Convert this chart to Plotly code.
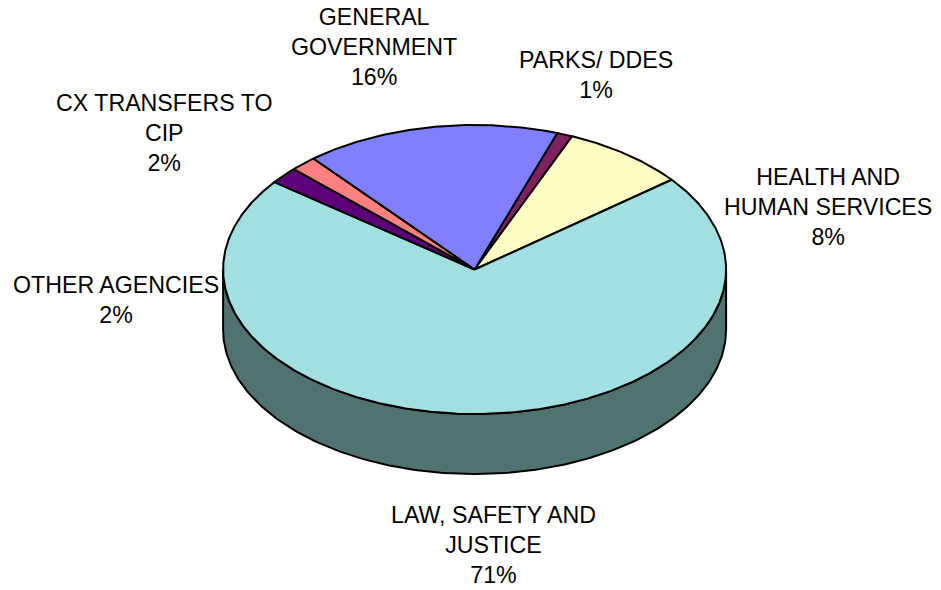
import numpy as np
import plotly.graph_objects as go

# ---- data (clockwise order, starting at the Parks slice) ----
categories = ["PARKS/ DDES", "HEALTH AND<br>HUMAN SERVICES", "LAW, SAFETY AND<br>JUSTICE",
              "OTHER AGENCIES", "CX TRANSFERS TO<br>CIP", "GENERAL<br>GOVERNMENT"]
values = [1.0, 8.0, 71.0, 1.9, 1.7, 16.4]

# ---- styles / layout ----
top_colors = ["#80205F", "#FFFFC4", "#A2DFE0", "#5E0078", "#FF8080", "#8080FF"]
side_colors = ["#501040", "#9F9F7A", "#517370", "#3A004A", "#9F5050", "#50509F"]
label_pos = [(595.5, 75), (828, 207), (493.5, 545), (116, 300), (163.5, 132.5), (374, 47)]

W, H = 941, 590
cx, cy = 474.6, 269.5
rx, ry = 251.5, 144.5
depth = 60
start_angle = 70.8  # degrees, math convention; slices go clockwise

total = sum(values)
fig = go.Figure()

def ell(a_deg, dy=0.0):
    a = np.radians(a_deg)
    return cx + rx * np.cos(a), cy - ry * np.sin(a) + dy

# slice angle intervals
slices = []
a = start_angle
for v in values:
    span = 360.0 * v / total
    slices.append((a - span, a))
    a -= span

# side walls (front half: math angles in [-180, 0])
for (lo, hi), col in zip(slices, side_colors):
    for shift in (-360, 0, 360):
        l = max(lo + shift, -180.0)
        h = min(hi + shift, 0.0)
        if h > l:
            ang = np.linspace(l, h, 200)
            xt, yt = ell(ang)
            xb, yb = ell(ang[::-1], depth)
            xs = np.concatenate([xt, xb, xt[:1]])
            ys = np.concatenate([yt, yb, yt[:1]])
            fig.add_trace(go.Scatter(x=xs, y=ys, mode="lines", fill="toself",
                                     fillcolor=col, line=dict(color="black", width=2),
                                     hoverinfo="skip", showlegend=False))

# top faces
for (lo, hi), col in zip(slices, top_colors):
    n = max(int((hi - lo) * 2), 10)
    ang = np.linspace(hi, lo, n)
    xa, ya = ell(ang)
    xs = np.concatenate([[cx], xa, [cx]])
    ys = np.concatenate([[cy], ya, [cy]])
    fig.add_trace(go.Scatter(x=xs, y=ys, mode="lines", fill="toself",
                             fillcolor=col, line=dict(color="black", width=2),
                             hoverinfo="skip", showlegend=False))

# labels
for cat, v, (lx, ly) in zip(categories, values, label_pos):
    pct = int(round(100 * v / total))
    fig.add_annotation(x=lx, y=ly, text=f"{cat}<br>{pct}%", showarrow=False,
                       xanchor="center", yanchor="middle", align="center",
                       font=dict(family="Liberation Sans, Arial, sans-serif", size=23.2, color="black"))

fig.update_layout(
    width=W, height=H, margin=dict(l=0, r=0, t=0, b=0),
    paper_bgcolor="white", plot_bgcolor="white",
    xaxis=dict(range=[0, W], visible=False, fixedrange=True),
    yaxis=dict(range=[H, 0], visible=False, fixedrange=True),
)
fig.write_html("out.html", config={"displayModeBar": False},
               post_script="document.body.style.margin='0';document.body.style.overflow='hidden';")
